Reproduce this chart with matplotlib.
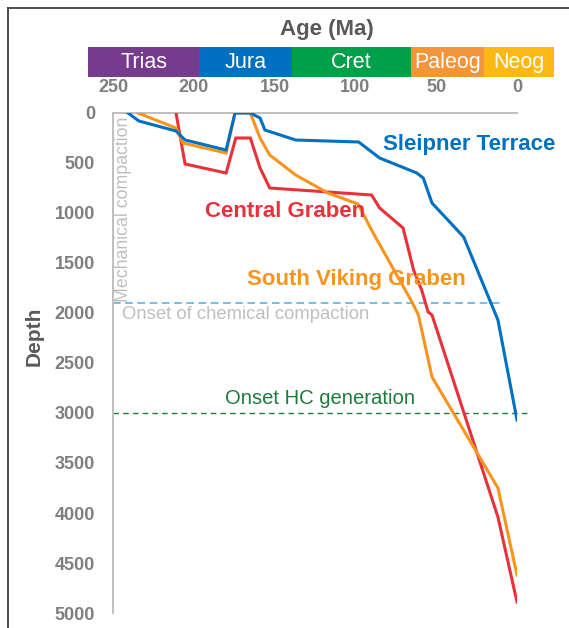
import numpy as np
import matplotlib.pyplot as plt
from matplotlib import font_manager

W, H = 569, 628

# burial histories: age (Ma) vs depth (m)
sleipner_age = [240.7, 234, 211, 205.4, 180, 174.5, 165, 159, 156, 137, 98, 85, 62, 58, 52.6, 33, 11.8, 0]
sleipner_depth = [0, 80, 180, 270, 370, 0, 0, 50, 170, 270, 290, 450, 600, 650, 900, 1240, 2070, 3070]

central_age = [211, 205.4, 180, 174, 165, 159, 153, 90, 85, 70.5, 64, 59, 55, 52.6, 11.8, 0]
central_depth = [0, 510, 600, 250, 250, 550, 750, 820, 950, 1150, 1570, 1770, 1990, 2020, 4040, 4890]

viking_age = [234.5, 211, 206.7, 180, 174.5, 165, 159, 153, 137, 117, 98.4, 89, 65, 61, 52.6, 11.8, 0]
viking_depth = [0, 150, 300, 400, 0, 0, 250, 420, 620, 800, 910, 1200, 1890, 2020, 2640, 3750, 4620]

periods = ["Trias", "Jura", "Cret", "Paleog", "Neog"]
period_edges = [265.5, 196.8, 139.2, 65.6, 20.4, -22.9]
period_colors = ["#763B8C", "#0070C0", "#00A04B", "#F4943B", "#FDB913"]

age_ticks = [250, 200, 150, 100, 50, 0]
depth_ticks = list(range(0, 5001, 500))
chem_depth = 1900
hc_depth = 3000

BLUE = "#0070C0"
RED = "#E8313A"
ORANGE = "#F7941D"
GRAY_TXT = "#7F7F7F"
DARK_TXT = "#595959"
LIGHT = "#BFBFBF"

names = {f.name for f in font_manager.fontManager.ttflist}
SANS = "Liberation Sans" if "Liberation Sans" in names else "DejaVu Sans"
NARROW = SANS
for cand in ["Liberation Sans Narrow", "Arial Narrow", "DejaVu Sans Condensed"]:
    if cand in names:
        NARROW = cand
        break
plt.rcParams["font.family"] = [SANS, "DejaVu Sans"]


def px_x(x):
    return x / W


def px_y(y):
    return 1 - y / H


fig = plt.figure(figsize=(W / 100, H / 100), dpi=100)

# outer frame (only left and top visible)
fig.add_artist(plt.Line2D([px_x(8), px_x(8)], [px_y(8), 0], color="#404040", lw=1.3))
fig.add_artist(plt.Line2D([px_x(8), 1], [px_y(8), px_y(8)], color="#404040", lw=1.3))

ax = fig.add_axes([px_x(113), px_y(613), (517 - 113) / W, 500 / H])
ax.set_xlim(250, 0)
ax.set_ylim(5000, 0)

ax.plot(central_age, central_depth, color=RED, lw=2.2, solid_joinstyle="miter", zorder=3)
ax.plot(viking_age, viking_depth, color=ORANGE, lw=2.2, solid_joinstyle="miter", zorder=3)
ax.plot(sleipner_age, sleipner_depth, color=BLUE, lw=2.2, solid_joinstyle="miter", zorder=4)

ax.plot([250, 9.3], [chem_depth, chem_depth], color="#4BAEE0", lw=1.1,
        dashes=(5, 3), clip_on=False, zorder=2)
ax.plot([250, -6.2], [hc_depth, hc_depth], color="#1E7B3A", lw=1.0,
        dashes=(4, 3), clip_on=False, zorder=2)

for s in ["right", "bottom"]:
    ax.spines[s].set_visible(False)
for s in ["left", "top"]:
    ax.spines[s].set_color(LIGHT)
    ax.spines[s].set_linewidth(1.4)

ax.xaxis.tick_top()
ax.set_xticks(age_ticks)
ax.set_yticks(depth_ticks)
ax.tick_params(length=0)
ax.tick_params(axis="x", pad=12)
ax.tick_params(axis="y", pad=13)
for lab in ax.get_xticklabels() + ax.get_yticklabels():
    lab.set_fontfamily([NARROW, "DejaVu Sans"])
    lab.set_fontweight("bold")
    lab.set_fontsize(13)
    lab.set_color(GRAY_TXT)

ax.text(82.9, 320, "Sleipner Terrace", color=BLUE, fontsize=16, fontweight="bold",
        ha="left", va="center", zorder=5)
ax.text(193, 990, "Central Graben", color=RED, fontsize=16, fontweight="bold",
        ha="left", va="center", zorder=5)
ax.text(167, 1670, "South Viking Graben", color=ORANGE, fontsize=16, fontweight="bold",
        ha="left", va="center", zorder=5)
ax.text(244.4, 2020, "Onset of chemical compaction", color=LIGHT, fontsize=13.3,
        ha="left", va="center")
ax.text(180.7, 2860, "Onset HC generation", color="#1E7B3A", fontsize=14.6,
        ha="left", va="center")
ax.text(248.5, 1890, "Mechanical compaction", color=LIGHT, fontsize=12.8,
        rotation=90, ha="left", va="bottom")

fig.text(px_x(34.5), px_y(336), "Depth", rotation=90, fontsize=15, fontweight="bold",
         color=DARK_TXT, ha="center", va="center")
fig.text(px_x(327), px_y(29), "Age (Ma)", fontsize=16, fontweight="bold",
         color=DARK_TXT, ha="center", va="center")

# geological time bar
axb = fig.add_axes([px_x(88), px_y(76.5), (554 - 88) / W, 29.5 / H])
axb.set_xlim(period_edges[0], period_edges[-1])
axb.set_ylim(0, 1)
axb.axis("off")
lefts = period_edges[:-1]
widths = np.diff(period_edges)
axb.barh(0.5, widths, left=lefts, height=1, color=period_colors, edgecolor="none")
for name, l, w in zip(periods, lefts, widths):
    axb.text(l + w / 2, 0.47, name, color="white", fontsize=15.5, ha="center", va="center")

fig.savefig("out.png", dpi=100)
